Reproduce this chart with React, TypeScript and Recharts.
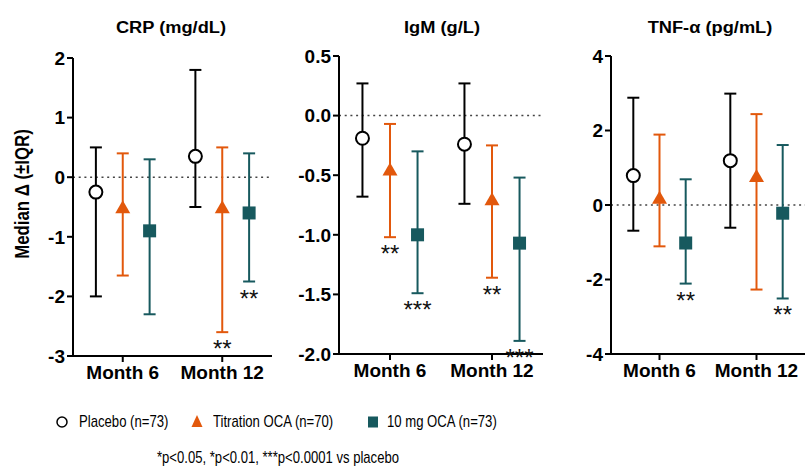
import React from 'react';
import { ScatterChart, Scatter, XAxis, YAxis, ErrorBar, ReferenceLine } from 'recharts';

const months = ['Month 6', 'Month 12'];

// CRP (mg/dL): median, lower quartile, upper quartile
const crpPlacebo = [-0.25, 0.35];
const crpPlaceboLow = [-2.0, -0.5];
const crpPlaceboHigh = [0.5, 1.8];
const crpTitration = [-0.52, -0.52];
const crpTitrationLow = [-1.65, -2.6];
const crpTitrationHigh = [0.4, 0.5];
const crp10mg = [-0.9, -0.6];
const crp10mgLow = [-2.3, -1.75];
const crp10mgHigh = [0.3, 0.4];
const crpTitrationStars = ['', '**'];
const crp10mgStars = ['', '**'];

// IgM (g/L)
const igmPlacebo = [-0.19, -0.24];
const igmPlaceboLow = [-0.68, -0.74];
const igmPlaceboHigh = [0.27, 0.27];
const igmTitration = [-0.46, -0.71];
const igmTitrationLow = [-1.02, -1.36];
const igmTitrationHigh = [-0.07, -0.25];
const igm10mg = [-1.0, -1.07];
const igm10mgLow = [-1.49, -1.89];
const igm10mgHigh = [-0.3, -0.52];
const igmTitrationStars = ['**', '**'];
const igm10mgStars = ['***', '***'];

// TNF-alpha (pg/mL)
const tnfPlacebo = [0.79, 1.19];
const tnfPlaceboLow = [-0.69, -0.61];
const tnfPlaceboHigh = [2.88, 2.99];
const tnfTitration = [0.17, 0.75];
const tnfTitrationLow = [-1.11, -2.27];
const tnfTitrationHigh = [1.89, 2.44];
const tnf10mg = [-1.02, -0.22];
const tnf10mgLow = [-2.11, -2.51];
const tnf10mgHigh = [0.69, 1.61];
const tnfTitrationStars = ['', ''];
const tnf10mgStars = ['**', '**'];

const ORANGE = '#E2580C';
const TEAL = '#17595E';
const FONT = '"Liberation Sans", Arial, sans-serif';
const OFFSET = 0.27;

const toPoints = (med: number[], low: number[], high: number[], off: number) =>
  med.map((m, i) => ({ x: i + 0.5 + off, y: m, err: [m - low[i], high[i] - m] }));

const toStars = (low: number[], labels: string[], off: number) =>
  low.map((l, i) => ({ x: i + 0.5 + off, y: l, label: labels[i] })).filter(d => d.label);

const CircleShape = (p: any) => (
  <circle cx={p.cx} cy={p.cy} r={6.5} fill="#fff" stroke="#000" strokeWidth={2} />
);
const TriangleShape = (p: any) => (
  <polygon
    points={`${p.cx},${p.cy - 8} ${p.cx - 7.5},${p.cy + 5} ${p.cx + 7.5},${p.cy + 5}`}
    fill={ORANGE}
  />
);
const SquareShape = (p: any) => (
  <rect x={p.cx - 6.5} y={p.cy - 6.5} width={13} height={13} fill={TEAL} />
);
const StarShape = (p: any) => (
  <text x={p.cx} y={p.cy + 25} textAnchor="middle" fontSize={24} fontFamily={FONT} fill="#111">
    {p.payload.label}
  </text>
);

interface PanelProps {
  left: number;
  width: number;
  yWidth: number;
  top: number;
  bottom: number;
  domain: [number, number];
  ticks: number[];
  digits: number;
  placebo: [number[], number[], number[]];
  titration: [number[], number[], number[]];
  tenMg: [number[], number[], number[]];
  titrationStars: string[];
  tenMgStars: string[];
}

const Panel: React.FC<PanelProps> = p => {
  const tick = { fill: '#000', fontSize: 19, fontWeight: 700, fontFamily: FONT };
  const stars = [
    ...toStars(p.titration[1], p.titrationStars, 0),
    ...toStars(p.tenMg[1], p.tenMgStars, OFFSET),
  ];
  return (
    <div style={{ position: 'absolute', left: p.left, top: 0 }}>
      <ScatterChart width={p.width} height={400} margin={{ top: p.top, right: 2, bottom: p.bottom, left: 0 }}>
        <XAxis
          type="number"
          dataKey="x"
          domain={[0, 2]}
          ticks={[0.5, 1.5]}
          tickFormatter={(v: number) => months[Math.round(v - 0.5)]}
          axisLine={{ stroke: '#000', strokeWidth: 2 }}
          tickLine={{ stroke: '#000', strokeWidth: 2 }}
          tickSize={6}
          tickMargin={4}
          tick={tick}
          height={30}
        />
        <YAxis
          type="number"
          dataKey="y"
          domain={p.domain}
          ticks={p.ticks}
          interval={0}
          tickFormatter={(v: number) => v.toFixed(p.digits)}
          axisLine={{ stroke: '#000', strokeWidth: 2 }}
          tickLine={{ stroke: '#000', strokeWidth: 2 }}
          tickSize={6}
          tick={tick}
          width={p.yWidth}
        />
        <ReferenceLine y={0} stroke="#444" strokeDasharray="2 3.7" strokeWidth={1.5} />
        <Scatter name="Placebo" data={toPoints(p.placebo[0], p.placebo[1], p.placebo[2], -OFFSET)} shape={CircleShape} isAnimationActive={false}>
          <ErrorBar dataKey="err" direction="y" width={6} stroke="#000" strokeWidth={2} />
        </Scatter>
        <Scatter name="Titration OCA" data={toPoints(p.titration[0], p.titration[1], p.titration[2], 0)} shape={TriangleShape} isAnimationActive={false}>
          <ErrorBar dataKey="err" direction="y" width={6} stroke={ORANGE} strokeWidth={2} />
        </Scatter>
        <Scatter name="10 mg OCA" data={toPoints(p.tenMg[0], p.tenMg[1], p.tenMg[2], OFFSET)} shape={SquareShape} isAnimationActive={false}>
          <ErrorBar dataKey="err" direction="y" width={6} stroke={TEAL} strokeWidth={2} />
        </Scatter>
        <Scatter name="stars" data={stars} shape={StarShape} isAnimationActive={false} />
      </ScatterChart>
    </div>
  );
};

const titleStyle = (cx: number): React.CSSProperties => ({
  position: 'absolute',
  left: cx - 100,
  top: 19,
  width: 200,
  textAlign: 'center',
  fontFamily: FONT,
  fontWeight: 700,
  fontSize: 16,
  transform: 'scaleX(1.14)',
  color: '#000',
});

const legendText: React.CSSProperties = {
  position: 'absolute',
  top: 412,
  fontFamily: FONT,
  fontSize: 17,
  color: '#000',
  whiteSpace: 'nowrap',
  transform: 'scaleX(0.772)',
  transformOrigin: 'left center',
};

export default function App() {
  return (
    <div style={{ position: 'absolute', left: 0, top: 0, width: 807, height: 468, background: '#fff', overflow: 'hidden' }}>
      <Panel
        left={0} width={274} yWidth={73} top={58} bottom={14}
        domain={[-3, 2]} ticks={[-3, -2, -1, 0, 1, 2]} digits={0}
        placebo={[crpPlacebo, crpPlaceboLow, crpPlaceboHigh]}
        titration={[crpTitration, crpTitrationLow, crpTitrationHigh]}
        tenMg={[crp10mg, crp10mgLow, crp10mgHigh]}
        titrationStars={crpTitrationStars} tenMgStars={crp10mgStars}
      />
      <Panel
        left={270} width={275} yWidth={69} top={56} bottom={16}
        domain={[-2, 0.5]} ticks={[-2, -1.5, -1, -0.5, 0, 0.5]} digits={1}
        placebo={[igmPlacebo, igmPlaceboLow, igmPlaceboHigh]}
        titration={[igmTitration, igmTitrationLow, igmTitrationHigh]}
        tenMg={[igm10mg, igm10mgLow, igm10mgHigh]}
        titrationStars={igmTitrationStars} tenMgStars={igm10mgStars}
      />
      <Panel
        left={540} width={267} yWidth={71} top={56} bottom={16}
        domain={[-4, 4]} ticks={[-4, -2, 0, 2, 4]} digits={0}
        placebo={[tnfPlacebo, tnfPlaceboLow, tnfPlaceboHigh]}
        titration={[tnfTitration, tnfTitrationLow, tnfTitrationHigh]}
        tenMg={[tnf10mg, tnf10mgLow, tnf10mgHigh]}
        titrationStars={tnfTitrationStars} tenMgStars={tnf10mgStars}
      />

      <div style={titleStyle(171)}>CRP (mg/dL)</div>
      <div style={titleStyle(442)}>IgM (g/L)</div>
      <div style={titleStyle(710)}>TNF-α (pg/mL)</div>

      <div
        style={{
          position: 'absolute', left: 22, top: 194,
          transform: 'translate(-50%, -50%) rotate(-90deg) scaleX(0.84)',
          fontFamily: FONT, fontWeight: 700, fontSize: 20, whiteSpace: 'nowrap', color: '#000',
        }}
      >
        Median Δ (±IQR)
      </div>

      <svg style={{ position: 'absolute', left: 0, top: 0 }} width={807} height={468}>
        <circle cx={62} cy={422} r={5} fill="#fff" stroke="#000" strokeWidth={1.5} />
        <polygon points="197,415 191.5,427 202.5,427" fill={ORANGE} />
        <rect x={368} y={416.5} width={10} height={11} fill={TEAL} />
      </svg>
      <div style={{ ...legendText, left: 79 }}>Placebo (n=73)</div>
      <div style={{ ...legendText, left: 213 }}>Titration OCA (n=70)</div>
      <div style={{ ...legendText, left: 387 }}>10 mg OCA (n=73)</div>
      <div style={{ ...legendText, top: 448, left: 0, width: 556, textAlign: 'center', transform: 'scaleX(0.77)', transformOrigin: 'center center' }}>
        *p&lt;0.05, *p&lt;0.01, ***p&lt;0.0001 vs placebo
      </div>
    </div>
  );
}
